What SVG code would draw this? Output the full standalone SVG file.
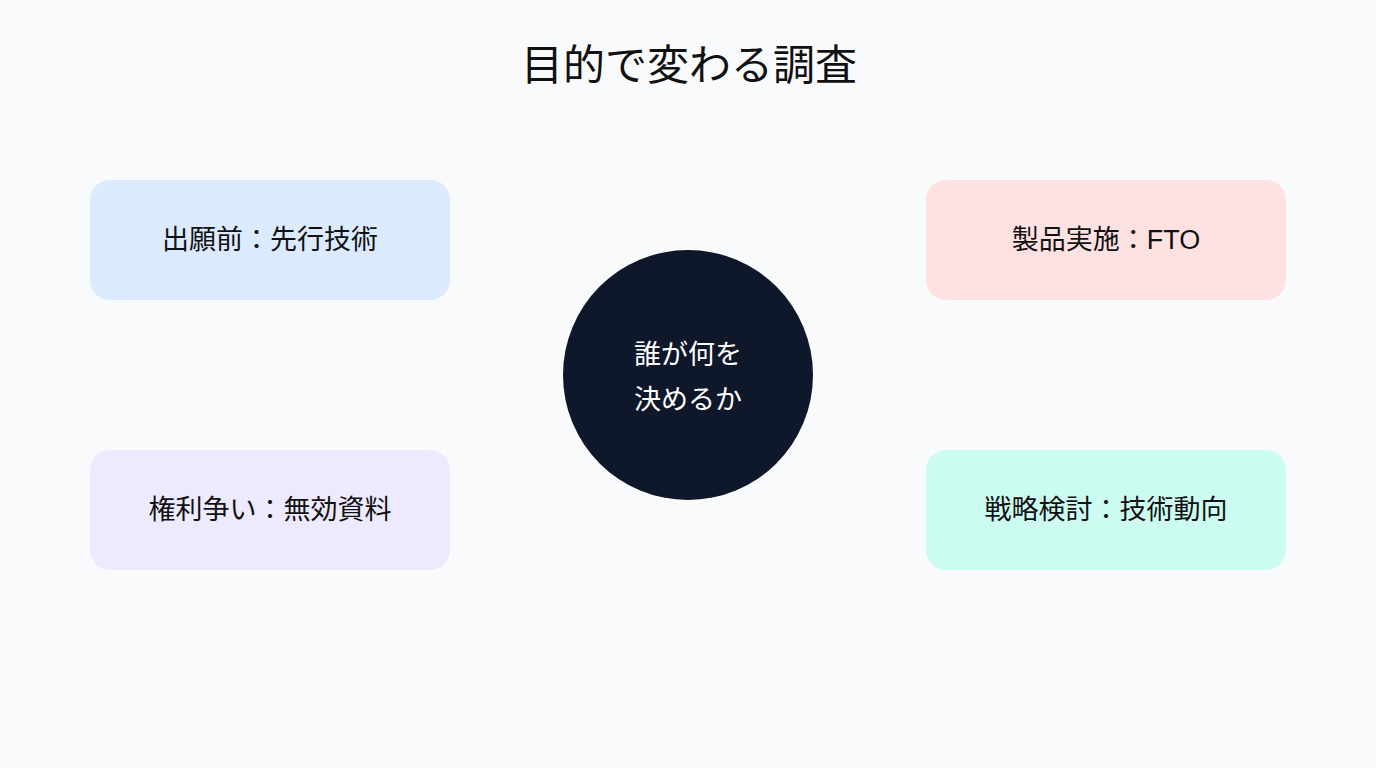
<svg xmlns="http://www.w3.org/2000/svg" width="1376" height="768" viewBox="0 0 1376 768">
<style>
text{font-family:"Liberation Sans","Noto Sans CJK JP",sans-serif;text-anchor:middle;dominant-baseline:central}
.lbl{font-size:27px;fill:#111111}
.title{font-size:42px;fill:#111111}
.ctr{font-size:27px;fill:#ffffff}
</style>
<rect width="1376" height="768" fill="#F8FAFC"/>
<text class="title" x="689" y="65">目的で変わる調査</text>
<g id="connectors"></g>
<g id="node-prior">
<rect x="90" y="180" width="360" height="120" rx="20" fill="#DBEAFE"/>
<text class="lbl" x="270" y="240">出願前：先行技術</text>
</g>
<g id="node-fto">
<rect x="926" y="180" width="360" height="120" rx="20" fill="#FEE2E2"/>
<text class="lbl" x="1106" y="240">製品実施：FTO</text>
</g>
<g id="node-invalid">
<rect x="90" y="450" width="360" height="120" rx="20" fill="#EDE9FE"/>
<text class="lbl" x="270" y="510">権利争い：無効資料</text>
</g>
<g id="node-strategy">
<rect x="926" y="450" width="360" height="120" rx="20" fill="#CCFBF1"/>
<text class="lbl" x="1106" y="510">戦略検討：技術動向</text>
</g>
<g id="node-center">
<circle cx="688" cy="375" r="125" fill="#0F172A"/>
<text class="ctr" x="688" y="355">誰が何を</text>
<text class="ctr" x="688" y="400">決めるか</text>
</g>
</svg>
